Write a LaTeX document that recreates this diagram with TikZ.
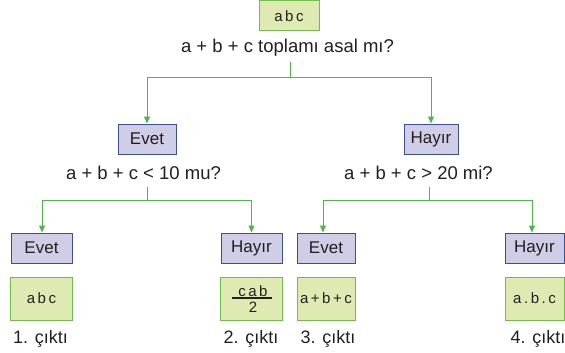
\documentclass[tikz,border=0pt]{standalone}
\usepackage{fontspec}
\setmainfont{Liberation Sans}
\usetikzlibrary{arrows.meta}
\definecolor{lgreen}{HTML}{4DB848}
\definecolor{gfill}{HTML}{DFEAB3}
\definecolor{gborder}{HTML}{6CC04A}
\definecolor{bfill}{HTML}{D0CDE6}
\definecolor{bborder}{HTML}{3A4FA0}
\definecolor{txt}{HTML}{231F20}
\tikzset{
  gbox/.style={draw=gborder, fill=gfill, line width=1pt, inner sep=0pt, font=\fontsize{15}{17}\selectfont, text=txt},
  bbox/.style={draw=bborder, fill=bfill, line width=1pt, inner sep=0pt, font=\fontsize{17}{19}\selectfont, text=txt},
  qtext/.style={font=\fontsize{18.5}{20}\selectfont, text=txt, inner sep=0pt},
  otext/.style={font=\fontsize{18}{20}\selectfont, text=txt, inner sep=0pt},
  ftext/.style={font=\fontsize{15}{17}\selectfont, text=txt, inner sep=0pt},
  conn/.style={draw=lgreen, line width=1pt},
  arr/.style={conn, -{Triangle[length=7pt,width=6pt]}}
}
\begin{document}
\begin{tikzpicture}[x=1pt,y=-1pt]
\useasboundingbox (0,0) rectangle (565,353);
% top
\node[gbox, minimum width=60pt, minimum height=30pt] (top) at (289,16) {a\,b\,c};
\node[qtext] (q1) at (287.5,48) {a + b + c toplamı asal mı?};
% level 2
\node[bbox, minimum width=58pt, minimum height=30pt] (evet1) at (147,139) {Evet};
\node[qtext] (q2) at (143.5,173) {a + b + c < 10 mu?};
\node[bbox, minimum width=54pt, minimum height=30pt] (hayir1) at (431,139) {Hayır};
\node[qtext] (q3) at (418.5,173) {a + b + c > 20 mi?};
% level 3
\node[bbox, minimum width=61pt, minimum height=30pt] (e2) at (41.5,248) {Evet};
\node[bbox, minimum width=61pt, minimum height=30pt] (h2) at (251.5,248) {Hayır};
\node[bbox, minimum width=58pt, minimum height=30pt] (e3) at (326,248) {Evet};
\node[bbox, minimum width=59pt, minimum height=30pt] (h3) at (534.5,248) {Hayır};
% outputs
\node[gbox, minimum width=62pt, minimum height=43pt] (o1) at (41.5,298.5) {a\,b\,c};
\node[gbox, minimum width=62pt, minimum height=43pt] (o2) at (251.5,298.5) {};
\node[ftext] (num) at (253,291) {c\,a\,b};
\node[ftext] (den) at (253,307.5) {2};
\coordinate (b1) at (232,298);
\coordinate (b2) at (272,298);
\draw[txt, line width=1.3pt] (b1) -- (b2);
\node[gbox, minimum width=58pt, minimum height=43pt] (o3) at (326,298.5) {a\,+\,b\,+\,c};
\node[gbox, minimum width=59pt, minimum height=43pt] (o4) at (534.5,298.5) {a\,.\,b\,.\,c};
\node[otext] (c1) at (40.5,339) {1. çıktı};
\node[otext] (c2) at (251,339) {2. çıktı};
\node[otext] (c3) at (328,339) {3. çıktı};
\node[otext] (c4) at (538,339) {4. çıktı};
% connectors
\coordinate (j1) at (290,78);
\coordinate (s1) at (290,62);
\draw[conn] (s1) -- (j1);
\draw[arr] (j1) -| (evet1.north);
\draw[arr] (j1) -| (hayir1.north);
\coordinate (j2) at (147,200);
\coordinate (s2) at (147,187);
\draw[conn] (s2) -- (j2);
\draw[arr] (j2) -| ([xshift=0.5pt]e2.north);
\draw[arr] (j2) -| (h2.north);
\coordinate (j3) at (429,200);
\coordinate (s3) at (429,187);
\draw[conn] (s3) -- (j3);
\draw[arr] (j3) -| ([xshift=-3pt]e3.north);
\draw[arr] (j3) -| ([xshift=-2.5pt]h3.north);
\end{tikzpicture}
\end{document}
